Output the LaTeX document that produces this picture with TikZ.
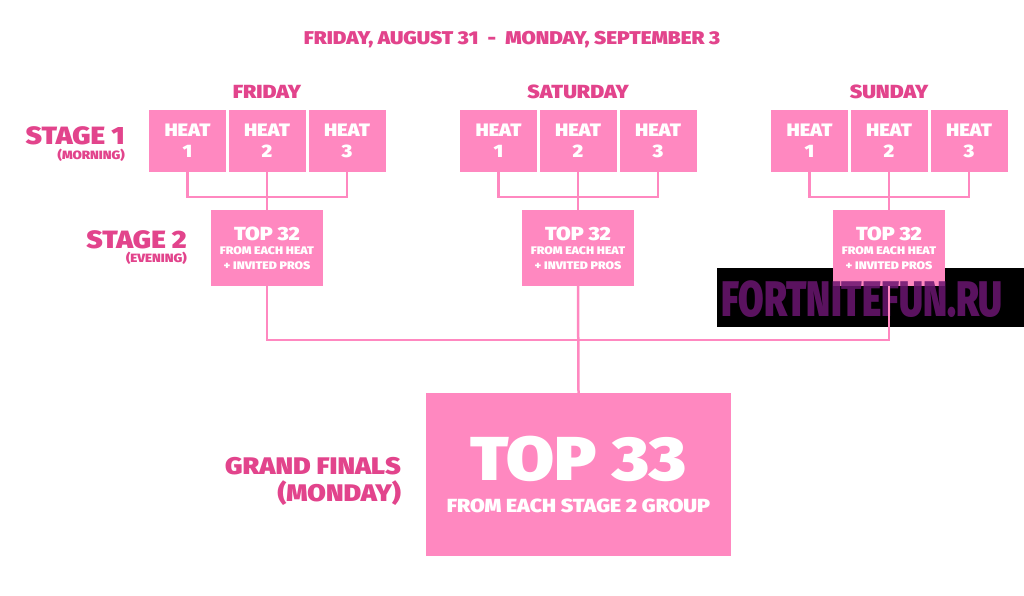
\documentclass[tikz,border=0pt]{standalone}
\usepackage{fontspec}
\usepackage{graphicx}
\setmainfont{Fira Sans}[BoldFont={* Black},BoldFeatures={FakeStretch=1.12}]
\definecolor{bx}{HTML}{FF88C0}
\definecolor{lab}{HTML}{E2448C}
\definecolor{wm}{HTML}{6A1670}
\begin{document}
\begin{tikzpicture}[x=1pt,y=-1pt,
  box/.style={fill=bx,draw=none,text=white,font=\bfseries,align=center,inner sep=0},
  ln/.style={draw=bx,line width=2.5pt},
  lbl/.style={text=lab,font=\bfseries,inner sep=0}]
\useasboundingbox (0,0) rectangle (1024,596);
\node[lbl,font=\bfseries\fontsize{18.5}{20}\selectfont] (title) at (512,40) {FRIDAY, AUGUST 31\ \ -\ \ MONDAY, SEPTEMBER 3};
\node[lbl,anchor=east,font=\bfseries\fontsize{25}{27}\selectfont] (s1) at (125,136) {STAGE 1};
\node[lbl,anchor=east,font=\bfseries\fontsize{12}{13}\selectfont] (s1b) at (125,155) {(MORNING)};
\node[lbl,anchor=east,font=\bfseries\fontsize{25}{27}\selectfont] (s2) at (187,240) {STAGE 2};
\node[lbl,anchor=east,font=\bfseries\fontsize{12}{13}\selectfont] (s2b) at (187,258) {(EVENING)};
\node[lbl,anchor=east,font=\bfseries\fontsize{24}{25}\selectfont] (gf) at (401,466) {GRAND FINALS};
\node[lbl,anchor=east,font=\bfseries\fontsize{24}{25}\selectfont] (gfb) at (401,493) {(MONDAY)};
\fill[black] (717,268) rectangle (1024,327);
\foreach \d/\cx/\nm in {FRIDAY/267/a,SATURDAY/578/b,SUNDAY/889/c}{
  \node[lbl,font=\bfseries\fontsize{19}{20}\selectfont] (day\nm) at (\cx,92) {\d};
  \node[box,minimum width=77pt,minimum height=62pt,font=\bfseries\fontsize{18}{21}\selectfont] (h\nm1) at (\cx-79.5,141) {HEAT\\1};
  \node[box,minimum width=77pt,minimum height=62pt,font=\bfseries\fontsize{18}{21}\selectfont] (h\nm2) at (\cx,141) {HEAT\\2};
  \node[box,minimum width=77pt,minimum height=62pt,font=\bfseries\fontsize{18}{21}\selectfont] (h\nm3) at (\cx+80,141) {HEAT\\3};
  \node[box,minimum width=112pt,minimum height=76pt,font=\bfseries\fontsize{11}{14}\selectfont] (t\nm) at (\cx,248)
    {{\fontsize{19}{21}\selectfont TOP 32}\\[0pt]FROM EACH HEAT\\[1pt]+ INVITED PROS};
  \coordinate (j\nm) at (\cx,197);
  \draw[ln] (h\nm1.south) |- (j\nm) -| (h\nm3.south);
  \draw[ln] (h\nm2.south) -- (t\nm.north);
  \coordinate (k\nm) at (\cx,340);
}
\node[text=wm,opacity=0.85,font=\bfseries\fontsize{50}{50}\selectfont,inner sep=0] (wmt) at (862,299) {\scalebox{0.66}[1]{FORTNITEFUN.RU}};
\node[box,minimum width=305pt,minimum height=163pt] (gb) at (578.5,474.5)
  {{\fontsize{62}{62}\selectfont TOP 33}\\[16pt]{\fontsize{19}{21}\selectfont FROM EACH STAGE 2 GROUP}};
\draw[ln] (ta.south) |- (kb) -| (tc.south);
\draw[ln] (tb.south) -- (gb.north);
\end{tikzpicture}
\end{document}
